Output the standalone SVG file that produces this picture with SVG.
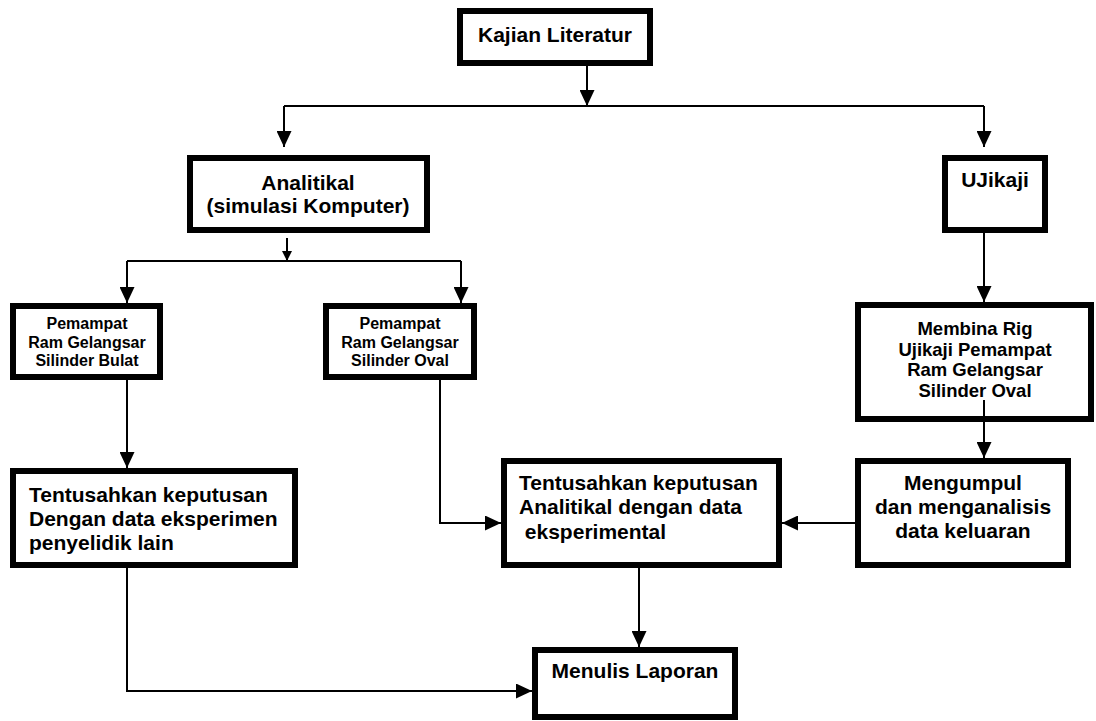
<svg xmlns="http://www.w3.org/2000/svg" width="1096" height="721" viewBox="0 0 1096 721">
<style>
.box{fill:#fff;stroke:#000;stroke-width:6}
.t{font-family:"Liberation Sans",Arial,sans-serif;font-weight:bold;font-size:21px;fill:#000}
.s{font-size:16px}
.m{font-size:18.5px}
.c{text-anchor:middle}
.ln{fill:none;stroke:#000;stroke-width:2}
</style>
<defs>
<marker id="arr" viewBox="0 0 16 15" refX="16" refY="7.5" markerWidth="16" markerHeight="15" markerUnits="userSpaceOnUse" orient="auto"><path d="M0,0 L16,7.5 L0,15 z" fill="#000"/></marker>
<marker id="arrs" viewBox="0 0 10 10" refX="10" refY="5" markerWidth="10" markerHeight="10" markerUnits="userSpaceOnUse" orient="auto"><path d="M0,0 L10,5 L0,10 z" fill="#000"/></marker>
</defs>
<rect width="1096" height="721" fill="#fff"/>
<g id="connectors">
<path class="ln" d="M587,66 V106" marker-end="url(#arr)"/>
<path class="ln" d="M284,106 H984"/>
<path class="ln" d="M284,106 V147" marker-end="url(#arr)"/>
<path class="ln" d="M984,106 V147" marker-end="url(#arr)"/>
<path class="ln" d="M287,238 V261" marker-end="url(#arrs)"/>
<path class="ln" d="M127,261 H461"/>
<path class="ln" d="M127,261 V303" marker-end="url(#arr)"/>
<path class="ln" d="M461,261 V303" marker-end="url(#arr)"/>
<path class="ln" d="M127,380 V468" marker-end="url(#arr)"/>
<path class="ln" d="M440,380 V523 H501" marker-end="url(#arr)"/>
<path class="ln" d="M984,233 V302" marker-end="url(#arr)"/>
<path class="ln" d="M855,523 H782" marker-end="url(#arr)"/>
<path class="ln" d="M639,568 V647" marker-end="url(#arr)"/>
<path class="ln" d="M127,568 V691 H532" marker-end="url(#arr)"/>
</g>
<g id="kajian"><rect class="box" x="460" y="11" width="190" height="52"/><text class="t c" x="555" y="42">Kajian Literatur</text></g>
<g id="analitikal"><rect class="box" x="190" y="158" width="237" height="72"/><text class="t c" x="308" y="190">Analitikal</text><text class="t c" x="308" y="213">(simulasi Komputer)</text></g>
<g id="ujikaji"><rect class="box" x="945" y="158" width="100" height="72"/><text class="t c" x="995" y="187">UJikaji</text></g>
<g id="bulat"><rect class="box" x="13" y="306" width="147" height="71"/><text class="t s c" x="87" y="329">Pemampat</text><text class="t s c" x="87" y="347.5">Ram Gelangsar</text><text class="t s c" x="87" y="366">Silinder Bulat</text></g>
<g id="oval"><rect class="box" x="326" y="306" width="148" height="71"/><text class="t s c" x="400" y="329">Pemampat</text><text class="t s c" x="400" y="347.5">Ram Gelangsar</text><text class="t s c" x="400" y="366">Silinder Oval</text></g>
<g id="membina"><rect class="box" x="858" y="305" width="233" height="114"/><text class="t m c" x="975" y="335">Membina Rig</text><text class="t m c" x="975" y="355.5">Ujikaji Pemampat</text><text class="t m c" x="975" y="376">Ram Gelangsar</text><text class="t m c" x="975" y="396.5">Silinder Oval</text></g>
<path class="ln" d="M984,400 V458" marker-end="url(#arr)"/>
<g id="tentusahkan-lain"><rect class="box" x="13" y="471" width="282" height="94"/><text class="t" x="29" y="502">Tentusahkan keputusan</text><text class="t" x="29" y="526">Dengan data eksperimen</text><text class="t" x="29" y="550">penyelidik lain</text></g>
<g id="tentusahkan-analitikal"><rect class="box" x="504" y="461" width="275" height="104"/><text class="t" x="519" y="490">Tentusahkan keputusan</text><text class="t" x="519" y="514">Analitikal dengan data</text><text class="t" x="519" y="539" xml:space="preserve"> eksperimental</text></g>
<g id="mengumpul"><rect class="box" x="858" y="461" width="210" height="104"/><text class="t c" x="963" y="490">Mengumpul</text><text class="t c" x="963" y="514">dan menganalisis</text><text class="t c" x="963" y="538">data keluaran</text></g>
<g id="menulis"><rect class="box" x="535" y="650" width="200" height="67"/><text class="t c" x="635" y="678">Menulis Laporan</text></g>
</svg>
